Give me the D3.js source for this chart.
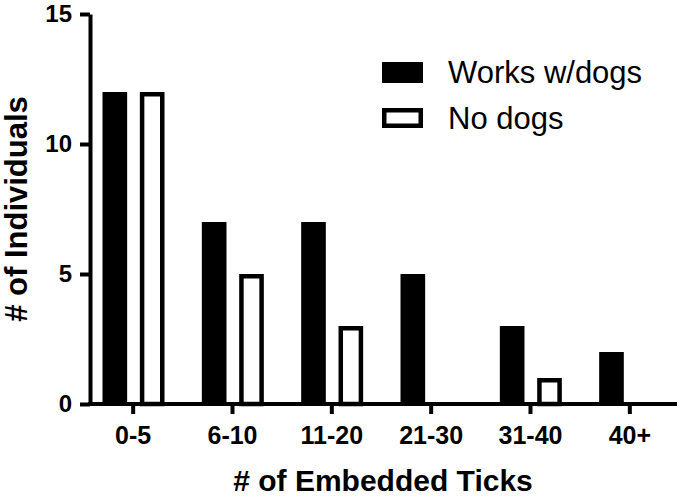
<!DOCTYPE html>
<html>
<head>
<meta charset="utf-8">
<script src="https://cdn.jsdelivr.net/npm/d3@7"></script>
<style>
	body { margin: 0; background: #fff; }
	svg { display: block; font-family: "Liberation Sans", Arial, sans-serif; }
	.axis text { font-weight: bold; fill: #000; }
	.axis line, .axis path { stroke: #000; stroke-width: 4; }
</style>
</head>
<body>
<svg id="chart" width="680" height="498"></svg>
<script>
var categories = ['0-5', '6-10', '11-20', '21-30', '31-40', '40+'];
var seriesNames = ['Works w/dogs', 'No dogs'];
var worksDogs = [12, 7, 7, 5, 3, 2];
var noDogs = [12, 5, 3, 0, 1, 0];
var yTicks = [0, 5, 10, 15];

var svg = d3.select('#chart');

var x = d3.scaleBand().domain(categories).range([83.5, 679.5]);
var x1 = d3.scaleBand().domain(seriesNames).range([19, 81]).paddingInner(0.34);
var y = d3.scaleLinear().domain([0, 15]).range([404, 14]);

var rows = categories.map(function(c, i){
	return [
		{cat: c, series: seriesNames[0], value: worksDogs[i]},
		{cat: c, series: seriesNames[1], value: noDogs[i]}
	];
});
var bars = d3.merge(rows).filter(function(d){ return d.value > 0 });

// filled bars
svg.selectAll('.bar-works')
	.data(bars.filter(function(d){ return d.series === seriesNames[0] }))
	.enter()
	.append('rect')
	.attr('class', 'bar-works')
	.attr('x', function(d){ return x(d.cat) + x1(d.series) })
	.attr('width', x1.bandwidth())
	.attr('y', function(d){ return y(d.value) })
	.attr('height', function(d){ return y(0) - y(d.value) })
	.attr('fill', '#000');

// open bars
var sw = 4.5;
svg.selectAll('.bar-none')
	.data(bars.filter(function(d){ return d.series === seriesNames[1] }))
	.enter()
	.append('rect')
	.attr('class', 'bar-none')
	.attr('x', function(d){ return x(d.cat) + x1(d.series) + sw / 2 })
	.attr('width', x1.bandwidth() - sw)
	.attr('y', function(d){ return y(d.value) + sw / 2 })
	.attr('height', function(d){ return y(0) - y(d.value) - sw / 2 })
	.attr('fill', '#fff')
	.attr('stroke', '#000')
	.attr('stroke-width', sw);

// y axis
var gy = svg.append('g')
	.attr('class', 'axis')
	.attr('transform', 'translate(90,0)')
	.call(d3.axisLeft(y).tickValues(yTicks).tickSize(10).tickSizeOuter(0).tickPadding(8));
gy.selectAll('text').style('font-size', '24px');

// x axis
var gx = svg.append('g')
	.attr('class', 'axis')
	.attr('transform', 'translate(0,404)')
	.call(d3.axisBottom(x).tickSize(10).tickSizeOuter(0));
gx.select('.domain').attr('d', 'M88,0H677');
gx.selectAll('text')
	.style('font-size', '25px')
	.attr('y', 40)
	.attr('dy', 0);

// axis titles
svg.append('text')
	.attr('x', 383)
	.attr('y', 491)
	.attr('text-anchor', 'middle')
	.style('font-size', '30px')
	.style('font-weight', 'bold')
	.text('# of Embedded Ticks');

svg.append('text')
	.attr('transform', 'translate(27,209) rotate(-90)')
	.attr('text-anchor', 'middle')
	.style('font-size', '31px')
	.style('font-weight', 'bold')
	.text('# of Individuals');

// legend
var legend = svg.selectAll('.legend')
	.data(seriesNames)
	.enter()
	.append('g')
	.attr('class', 'legend')
	.attr('transform', function(d, i){ return 'translate(382,' + (62 + i * 46) + ')' });

legend.append('rect')
	.attr('x', function(d, i){ return i ? 2.25 : 0 })
	.attr('y', function(d, i){ return i ? 2.25 : 0 })
	.attr('width', function(d, i){ return i ? 41 - 4.5 : 41 })
	.attr('height', function(d, i){ return i ? 20 - 4.5 : 21 })
	.attr('fill', function(d, i){ return i ? '#fff' : '#000' })
	.attr('stroke', function(d, i){ return i ? '#000' : 'none' })
	.attr('stroke-width', 4.5);

legend.append('text')
	.attr('x', 66)
	.attr('y', 21)
	.style('font-size', '31px')
	.text(function(d){ return d });
</script>
</body>
</html>
